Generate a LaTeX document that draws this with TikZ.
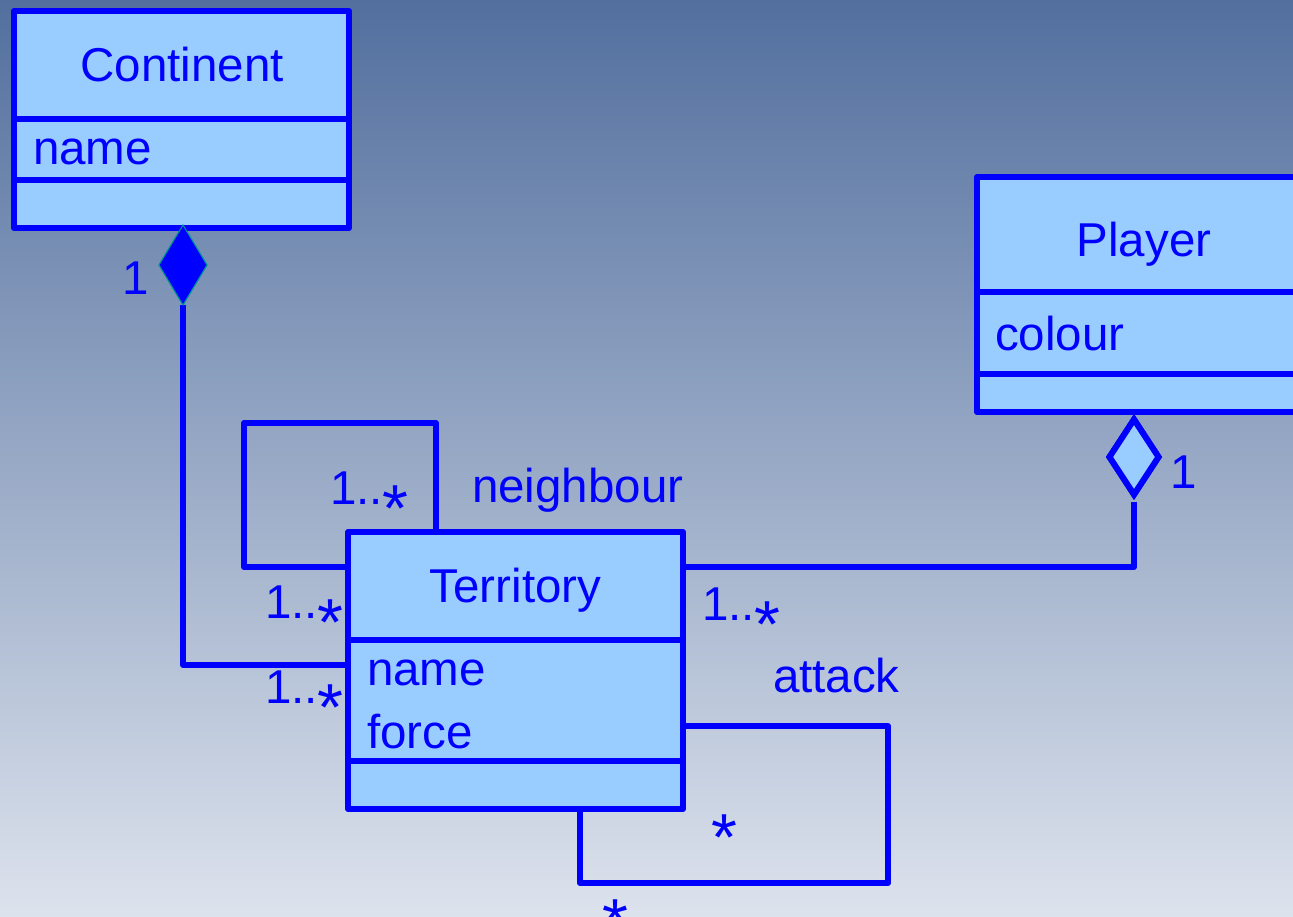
\documentclass[tikz,border=0pt]{standalone}
\usepackage{fontspec}
\usepackage{graphicx}
\setmainfont{Liberation Sans}
\usetikzlibrary{shapes.geometric}
\definecolor{umlblue}{RGB}{0,0,255}
\definecolor{umlfill}{RGB}{153,204,255}
\definecolor{bgtop}{RGB}{82,111,158}
\definecolor{bgbot}{RGB}{221,227,237}
\definecolor{dteal}{RGB}{0,150,150}
\newcommand{\mstar}{\raisebox{-0.58em}{\scalebox{1.4}{*}}}
\begin{document}
\begin{tikzpicture}[x=1pt,y=-1pt,
  cls/.style={draw=umlblue, fill=umlfill, line width=6pt, rectangle, inner sep=0pt, outer sep=0pt, anchor=north west, line join=round},
  ln/.style={draw=umlblue, line width=6pt, line join=round},
  txt/.style={text=umlblue, inner sep=0pt, outer sep=0pt, font=\fontsize{47.5pt}{57pt}\selectfont},
  title/.style={txt, anchor=base},
  attr/.style={txt, anchor=base west},
  lbl/.style={txt, anchor=base west},
  fdia/.style={diamond, draw=dteal, line width=1pt, fill=umlblue, inner sep=0pt, outer sep=0pt, minimum width=48pt, minimum height=80pt},
  hdia/.style={diamond, draw=umlblue, line width=6pt, fill=umlfill, inner sep=0pt, outer sep=0pt, minimum width=49pt, minimum height=75pt}]
\useasboundingbox (0,0) rectangle (1293,917);
\clip (0,0) rectangle (1293,917);
\shade[top color=bgtop, bottom color=bgbot] (0,0) rectangle (1293,917);

% attachment coordinates
\coordinate (nbA) at (436,532);
\coordinate (nbB) at (348,567);
\coordinate (nbC1) at (244,423);
\coordinate (tc) at (348,665);
\coordinate (tp) at (683,567);
\coordinate (atA) at (683,726);
\coordinate (atC1) at (888,883);
\coordinate (atB) at (580,809);

% diamonds (nodes placed first so connectors can use them)
\node[fdia] (cdia) at (183,265) {};
\node[hdia] (pdia) at (1134,457) {};

% connectors
\draw[ln] (nbA) |- (nbC1) |- (nbB);
\draw[ln] (cdia.south) |- (tc);
\draw[ln, shorten <=7pt] (pdia.south) |- (tp);
\draw[ln] (atA) -| (atC1) -| (atB);

% Continent
\node[cls, minimum width=335pt, minimum height=217pt] (cont) at (14,11) {};
\draw[ln] (cont.west |- 0,119) -- (cont.east |- 0,119);
\draw[ln] (cont.west |- 0,180) -- (cont.east |- 0,180);
\node[title] (cont-t) at (182,82) {Continent};
\node[attr] (cont-a) at (33,165) {name};

% Player
\node[cls, minimum width=334pt, minimum height=235pt] (play) at (977,177) {};
\draw[ln] (play.west |- 0,292) -- (play.east |- 0,292);
\draw[ln] (play.west |- 0,374) -- (play.east |- 0,374);
\node[title] (play-t) at (1144,257) {Player};
\node[attr] (play-a) at (995,350) {colour};

% Territory
\node[cls, minimum width=335pt, minimum height=277pt] (terr) at (348,532) {};
\draw[ln] (terr.west |- 0,640) -- (terr.east |- 0,640);
\draw[ln] (terr.west |- 0,761) -- (terr.east |- 0,761);
\node[title] (terr-t) at (515.5,602) {Territory};
\node[attr] (terr-a1) at (367,685) {name};
\node[attr] (terr-a2) at (367,748) {force};

% redraw diamonds on top of boxes
\node[fdia] at (cdia.center) {};
\node[hdia] at (pdia.center) {};

% labels
\node[txt, anchor=base east] (l-c1) at (149,295) {1};
\node[lbl] (l-n1) at (330,504) {1..\mstar};
\node[lbl] (l-nb) at (472,502) {neighbour};
\node[lbl] (l-n2) at (265,618) {1..\mstar};
\node[lbl] (l-c2) at (265,703) {1..\mstar};
\node[lbl] (l-p2) at (702,620) {1..\mstar};
\node[lbl] (l-p1) at (1170,488) {1};
\node[lbl] (l-at) at (773,692) {attack};
\node[lbl] (l-a1) at (711,833) {\mstar};
\node[lbl] (l-a2) at (602,918) {\mstar};
\end{tikzpicture}
\end{document}
